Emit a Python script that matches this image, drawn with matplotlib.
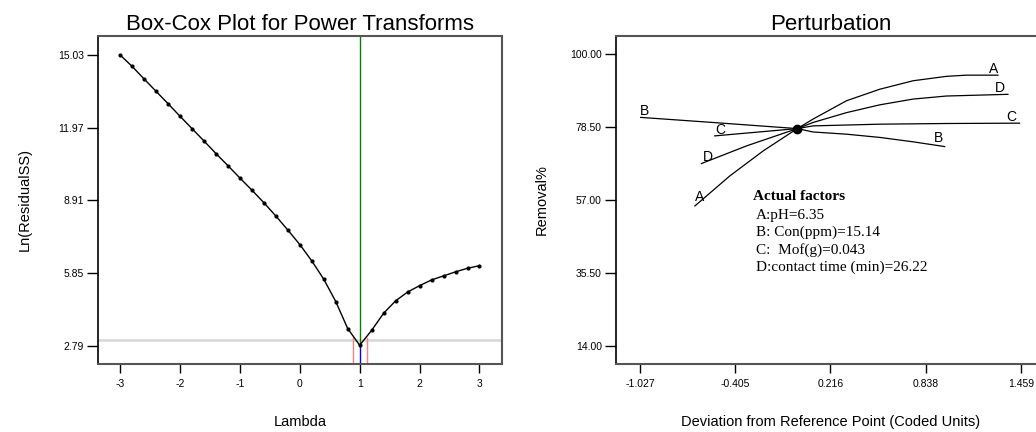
import matplotlib
matplotlib.use("Agg")
import matplotlib.pyplot as plt
from matplotlib.ticker import FormatStrFormatter

plt.rcParams['font.family'] = ['Liberation Sans', 'DejaVu Sans']
plt.rcParams['axes.unicode_minus'] = False

# Box-Cox data
lam = [-3.0, -2.8, -2.6, -2.4, -2.2, -2.0, -1.8, -1.6, -1.4, -1.2, -1.0, -0.8, -0.6, -0.4, -0.2,
       0.0, 0.2, 0.4, 0.6, 0.8, 1.0, 1.2, 1.4, 1.6, 1.8, 2.0, 2.2, 2.4, 2.6, 2.8, 3.0]
ln_ss = [15.03, 14.55, 14.02, 13.50, 12.98, 12.45, 11.93, 11.41, 10.88, 10.37, 9.85, 9.34, 8.81, 8.25, 7.66,
         7.05, 6.36, 5.59, 4.65, 3.51, 2.81, 3.44, 4.16, 4.68, 5.05, 5.32, 5.56, 5.73, 5.90, 6.05, 6.16]
lam_best = 1.0
ln_min = 2.81
ci_low, ci_high = 0.88, 1.125
ci_level = 3.04
ci_curve = 3.1
bc_xticks = [-3, -2, -1, 0, 1, 2, 3]
bc_yticks = [15.03, 11.97, 8.91, 5.85, 2.79]

# Perturbation data
a_x = [-0.668, -0.440, -0.223, 0.0, 0.103, 0.321, 0.538, 0.756, 0.973, 1.104, 1.310]
a_y = [55.2, 64.05, 71.4, 78.0, 80.8, 86.2, 89.6, 92.1, 93.4, 93.75, 93.75]
b_x = [-1.022, -0.55, 0.0, 0.103, 0.321, 0.538, 0.756, 0.962]
b_y = [81.3, 79.8, 78.0, 77.0, 76.35, 75.4, 74.1, 72.7]
c_x = [-0.538, 0.0, 0.103, 0.538, 0.973, 1.451]
c_y = [75.85, 78.0, 78.8, 79.3, 79.5, 79.6]
d_x = [-0.625, -0.331, 0.0, 0.103, 0.321, 0.538, 0.756, 0.973, 1.375]
d_y = [67.7, 72.9, 78.0, 79.8, 82.7, 85.0, 86.7, 87.6, 88.1]
ref_point = (0.0, 78.0)
curve_labels = [("A", 1.282, 95.5), ("D", 1.321, 90.1), ("C", 1.397, 81.3), ("B", 0.925, 75.1),
                ("B", -0.994, 83.2), ("C", -0.501, 77.6), ("D", -0.581, 69.7), ("A", -0.636, 57.7)]
factors = ["A:pH=6.35", "B: Con(ppm)=15.14", "C:  Mof(g)=0.043", "D:contact time (min)=26.22"]
pt_xticks = [-1.027, -0.405, 0.216, 0.838, 1.459]
pt_yticks = [100.00, 78.50, 57.00, 35.50, 14.00]

fig = plt.figure(figsize=(10.36, 4.32), dpi=100)
ax1 = fig.add_axes([0.0943, 0.1574, 0.3902, 0.7593])
ax2 = fig.add_axes([0.5943, 0.1574, 0.4144, 0.7593])


def style_axes(ax):
    for side in ["top", "right", "bottom"]:
        ax.spines[side].set_color("#555555")
        ax.spines[side].set_linewidth(1.5)
    ax.spines["left"].set_color("black")
    ax.spines["left"].set_linewidth(1.2)
    ax.tick_params(axis="y", direction="out", length=8, width=1, pad=2, labelsize=7.5)
    ax.tick_params(axis="x", direction="out", length=6.5, width=1, pad=4, labelsize=7.5)


# left: Box-Cox
ax1.axhline(ci_level, color="#d9d9d9", lw=2, zorder=1)
ax1.plot([lam_best, lam_best], [ln_min, 15.83], color="#008000", lw=1, zorder=2)
ax1.plot([lam_best, lam_best], [2.02, ln_min], color="#0000ff", lw=1, zorder=2)
ax1.plot([ci_low, ci_low], [2.02, ci_curve], color="#ff8080", lw=1, zorder=2)
ax1.plot([ci_high, ci_high], [2.02, ci_curve], color="#ff8080", lw=1, zorder=2)
ax1.plot(lam, ln_ss, color="black", lw=1, marker="o", markersize=2, zorder=3)
ax1.set_xlim(-3.375, 3.375)
ax1.set_ylim(2.02, 15.83)
ax1.set_xticks(bc_xticks)
ax1.set_yticks(bc_yticks)
ax1.yaxis.set_major_formatter(FormatStrFormatter("%.2f"))
style_axes(ax1)
ax1.set_title("Box-Cox Plot for Power Transforms", fontsize=16, pad=4)
ax1.set_xlabel("Lambda", fontsize=10.5, labelpad=19)
ax1.set_ylabel("Ln(ResidualSS)", fontsize=10.5, labelpad=19)

# right: perturbation
for xs, ys in [(a_x, a_y), (b_x, b_y), (c_x, c_y), (d_x, d_y)]:
    ax2.plot(xs, ys, color="black", lw=0.9)
ax2.plot(*ref_point, marker="o", color="black", markersize=6)
for name, lx, ly in curve_labels:
    ax2.text(lx, ly, name, fontsize=10, ha="center", va="center")
ax2.text(-0.29, 58.0, "Actual factors", family="Liberation Serif", fontweight="bold",
         fontsize=11, ha="left", va="center")
ax2.text(-0.27, 54.2, "\n".join(factors), family="Liberation Serif", fontsize=11,
         ha="left", va="top", linespacing=1.33)
ax2.set_xlim(-1.185, 1.617)
ax2.set_ylim(8.6, 105.3)
ax2.set_xticks(pt_xticks)
ax2.set_yticks(pt_yticks)
ax2.xaxis.set_major_formatter(FormatStrFormatter("%.3f"))
ax2.yaxis.set_major_formatter(FormatStrFormatter("%.2f"))
style_axes(ax2)
ax2.set_title("Perturbation", fontsize=16, pad=4)
ax2.set_xlabel("Deviation from Reference Point (Coded Units)", fontsize=10.5, labelpad=19)
ax2.set_ylabel("Removal%", fontsize=10.5, labelpad=15)

fig.savefig("out.png", dpi=100)
